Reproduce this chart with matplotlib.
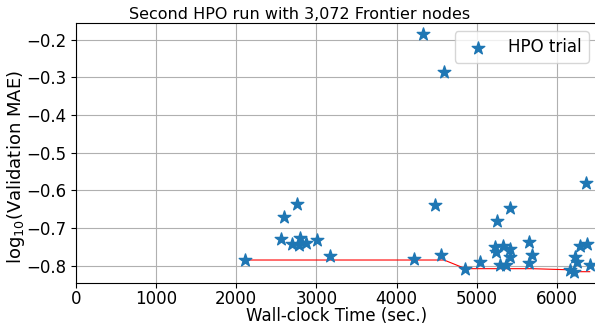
import numpy as np
import matplotlib
matplotlib.use('Agg')
import matplotlib.pyplot as plt

# wall-clock time (sec.) at which each HPO trial finished
wall_time = [2107, 2552, 2597, 2693, 2756, 2780, 2795, 2865, 3009, 3167,
             4214, 4323, 4476, 4551, 4592, 4859, 5042, 5230, 5245, 5258,
             5287, 5330, 5370, 5411, 5411, 5415, 5652, 5652, 5692, 6160,
             6213, 6228, 6251, 6284, 6359, 6375, 6409]
# log10 of the validation MAE for each trial
log_mae = [-0.785, -0.730, -0.672, -0.743, -0.636, -0.745, -0.726, -0.740, -0.731, -0.775,
           -0.782, -0.186, -0.639, -0.771, -0.285, -0.808, -0.789, -0.750, -0.765, -0.681,
           -0.798, -0.747, -0.798, -0.647, -0.755, -0.778, -0.738, -0.794, -0.772, -0.811,
           -0.816, -0.778, -0.789, -0.749, -0.581, -0.743, -0.798]

t = np.array(wall_time)
y = np.array(log_mae)
order = t.argsort()
best = np.minimum.accumulate(y[order])

fig = plt.figure(figsize=(5.95, 3.27), dpi=100)
ax = fig.add_axes([76/595, 44/327, 521/595, 260/327])
ax.grid(True, color='#b0b0b0', linewidth=0.8)
ax.set_axisbelow(True)
ax.plot(t[order], best, color='red', linewidth=0.8)
ax.scatter(t, y, marker='*', s=90, color='#1f77b4', label='HPO trial', zorder=3)

ax.set_xlim(0, 6500)
ax.set_ylim(-0.846, -0.156)
ax.set_xticks(np.arange(0, 7000, 1000))
ax.set_yticks([-0.8, -0.7, -0.6, -0.5, -0.4, -0.3, -0.2])
ax.tick_params(labelsize=12)
ax.tick_params(axis='x', pad=1.5)
ax.set_xlabel('Wall-clock Time (sec.)', fontsize=12, labelpad=-1)
ax.set_ylabel(r'log$_{10}$(Validation MAE)', fontsize=13)
ax.yaxis.set_label_coords(-0.094, 0.446)
ax.set_title('Second HPO run with 3,072 Frontier nodes', fontsize=11.5, pad=3, x=0.43)
ax.legend(loc='upper right', fontsize=12)

fig.savefig('out.png', dpi=100)
